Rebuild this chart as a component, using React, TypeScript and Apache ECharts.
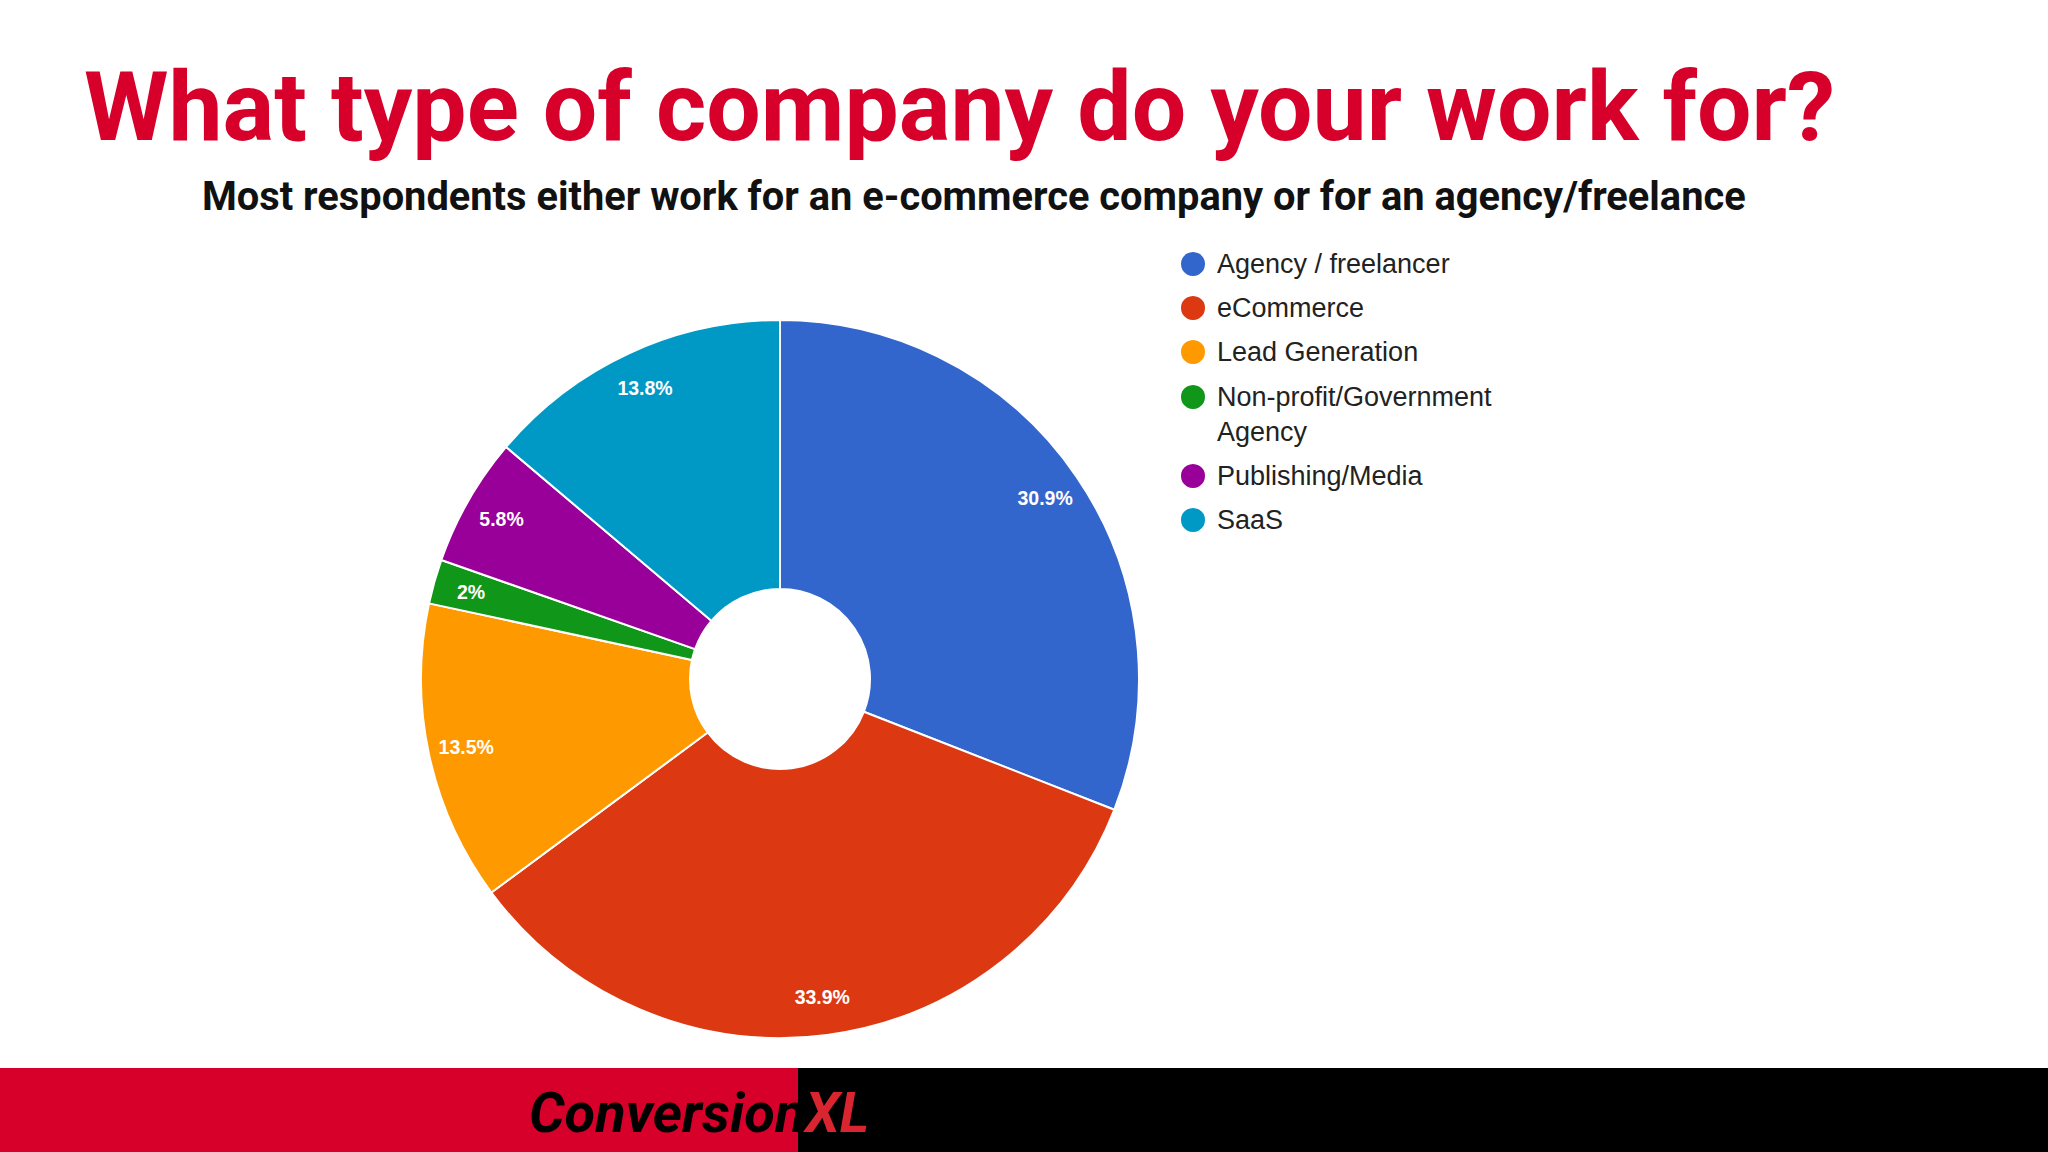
import React, { useEffect, useRef } from "react";
import * as echarts from "echarts";

const categories = [
  "Agency / freelancer",
  "eCommerce",
  "Lead Generation",
  "Non-profit/Government Agency",
  "Publishing/Media",
  "SaaS",
];
const shares = [30.9, 33.9, 13.5, 2, 5.8, 13.8];
const sliceColors = ["#3366CC", "#DC3912", "#FF9900", "#109618", "#990099", "#0099C6"];

const titleText = "What type of company do your work for?";
const subtitleText = "Most respondents either work for an e-commerce company or for an agency/freelance";

const RED = "#D7002A";

export default function App() {
  const ref = useRef<HTMLDivElement>(null);
  useEffect(() => {
    if (!ref.current) return;
    const chart = echarts.init(ref.current, undefined, { renderer: "svg" });
    const data = categories.map((name, i) => ({
      name,
      value: shares[i],
      itemStyle: { color: sliceColors[i] },
    }));
    const legendText = {
      fontFamily: "'Liberation Sans', Arial, sans-serif",
      fontSize: 27,
      lineHeight: 35,
      color: "#222222",
      padding: [0, 0, 0, 6],
    };
    const legendCommon = {
      orient: "vertical" as const,
      left: 1179,
      itemWidth: 26,
      itemHeight: 26,
      itemGap: 9,
      icon: "circle",
      padding: 0,
      textStyle: legendText,
      selectedMode: false,
    };
    chart.setOption({
      animation: false,
      backgroundColor: "#ffffff",
      title: [
        {
          text: titleText,
          left: 84,
          top: 58,
          padding: 0,
          textStyle: {
            fontFamily: "Roboto, sans-serif",
            fontWeight: "bold",
            fontSize: 96.6,
            color: RED,
          },
        },
        {
          text: subtitleText,
          left: 202,
          top: 176,
          padding: 0,
          textStyle: {
            fontFamily: "Roboto, sans-serif",
            fontWeight: "bold",
            fontSize: 39.8,
            color: "#111111",
          },
        },
      ],
      legend: [
        { ...legendCommon, top: 246.5, data: categories.slice(0, 3) },
        {
          ...legendCommon,
          top: 344.5,
          data: categories.slice(3),
          formatter: (name: string) =>
            name === "Non-profit/Government Agency" ? "\nNon-profit/Government\nAgency" : name,
        },
      ],
      series: [
        {
          type: "pie",
          center: [780, 679],
          radius: [90, 359],
          startAngle: 90,
          clockwise: true,
          label: { show: false },
          labelLine: { show: false },
          emphasis: { disabled: true },
          itemStyle: { borderColor: "#ffffff", borderWidth: 2 },
          data,
        },
        {
          type: "pie",
          center: [780, 679],
          radius: [277, 359],
          startAngle: 90,
          clockwise: true,
          silent: true,
          emphasis: { disabled: true },
          itemStyle: { color: "rgba(0,0,0,0)", borderWidth: 0 },
          labelLine: { show: false },
          label: {
            show: true,
            position: "inside",
            formatter: "{c}%",
            color: "#ffffff",
            fontFamily: "'Liberation Sans', Arial, sans-serif",
            fontWeight: "bold",
            fontSize: 19.5,
          },
          data: categories.map((name, i) => ({ name, value: shares[i] })),
        },
      ],
      graphic: [
        { type: "rect", left: 0, top: 1068, shape: { x: 0, y: 0, width: 798, height: 84 }, style: { fill: RED }, z: 0 },
        { type: "rect", left: 798, top: 1068, shape: { x: 0, y: 0, width: 1250, height: 84 }, style: { fill: "#000000" }, z: 0 },
        {
          type: "text",
          x: 529,
          y: 1113,
          z: 1,
          style: {
            text: "{a|Conversion}{b|XL}",
            verticalAlign: "middle",
            rich: {
              a: { fontFamily: "Roboto, sans-serif", fontWeight: "bold", fontStyle: "italic", fontSize: 56, fill: "#000000" },
              b: { fontFamily: "Roboto, sans-serif", fontWeight: "bold", fontStyle: "italic", fontSize: 56, fill: "#D8252F" },
            },
          },
        },
      ],
    });
    return () => chart.dispose();
  }, []);
  return (
    <div
      ref={ref}
      style={{ position: "fixed", left: 0, top: 0, width: 2048, height: 1152 }}
    />
  );
}
